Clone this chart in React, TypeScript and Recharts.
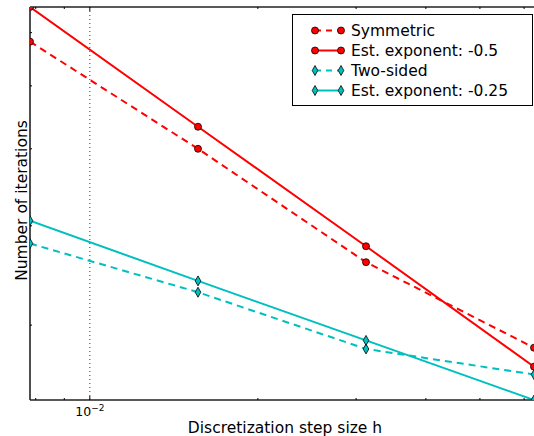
import { LineChart, Line, XAxis, YAxis, ReferenceLine, Legend, Label } from 'recharts';

// step sizes h (1/128 .. 1/16) and iteration counts
const stepSizes = [0.0078125, 0.015625, 0.03125, 0.0625];
const symmetricIters = [682, 500, 360, 281];
const symmetricFit = [754, 533, 377, 266];
const twoSidedIters = [380, 330, 280, 260];
const twoSidedFit = [406, 341, 287, 241.5];

const xTicks = [0.008, 0.009, 0.01, 0.02, 0.03, 0.04, 0.05, 0.06];
const yTicks = [300, 400, 500, 600, 700];

const RED = '#ff0000';
const CYAN = '#00bfbf';
const FONT = '"DejaVu Sans", sans-serif';
const DASH = '7 5';
const TEXT_SIZE = 15.5;

const data = stepSizes.map((h, i) => ({
  h,
  sym: symmetricIters[i],
  symFit: symmetricFit[i],
  two: twoSidedIters[i],
  twoFit: twoSidedFit[i],
}));

const legendItems = [
  { label: 'Symmetric', color: RED, dashed: true, marker: 'circle' },
  { label: 'Est. exponent: -0.5', color: RED, dashed: false, marker: 'circle' },
  { label: 'Two-sided', color: CYAN, dashed: true, marker: 'diamond' },
  { label: 'Est. exponent: -0.25', color: CYAN, dashed: false, marker: 'diamond' },
];

function Marker({ kind, cx, cy, color }: { kind: string; cx: number; cy: number; color: string }) {
  if (kind === 'circle') {
    return <circle cx={cx} cy={cy} r={3.5} fill={color} stroke="#000" strokeWidth={0.8} />;
  }
  return (
    <polygon
      points={`${cx},${cy - 5} ${cx + 2.8},${cy} ${cx},${cy + 5} ${cx - 2.8},${cy}`}
      fill={color}
      stroke="#000"
      strokeWidth={0.8}
    />
  );
}

const dotFor = (kind: string, color: string) => (props: any) => {
  const { cx, cy, index } = props;
  if (cx == null || cy == null) return <g key={`e-${index}`} />;
  return (
    <g key={`${kind}-${color}-${index}`}>
      <Marker kind={kind} cx={cx} cy={cy} color={color} />
    </g>
  );
};

const BottomTick = ({ x, y, payload }: any) => {
  const major = payload.value === 0.01;
  return (
    <g>
      <line x1={x} x2={x} y1={y} y2={y - (major ? 4 : 2)} stroke="#000" />
      {major && (
        <text x={x} y={y + 15.5} textAnchor="middle" fontFamily={FONT} fontSize={12.5} fill="#000">
          10
          <tspan dy={-5} fontSize={9}>
            −2
          </tspan>
        </text>
      )}
    </g>
  );
};

const TopTick = ({ x, y, payload }: any) => {
  const major = payload.value === 0.01;
  return <line x1={x} x2={x} y1={y} y2={y + (major ? 4 : 2)} stroke="#000" />;
};

const LeftTick = ({ x, y }: any) => <line x1={x} x2={x + 2} y1={y} y2={y} stroke="#000" />;

const renderLegend = () => (
  <svg width={241} height={92} style={{ display: 'block' }}>
    <rect x={0.5} y={0.5} width={240} height={91} fill="#fff" stroke="#000" strokeWidth={1} />
    {legendItems.map((item, i) => {
      const cy = 16.5 + i * 20;
      return (
        <g key={item.label}>
          <line
            x1={23}
            x2={49}
            y1={cy}
            y2={cy}
            stroke={item.color}
            strokeWidth={2}
            strokeDasharray={item.dashed ? '6 5' : undefined}
          />
          <Marker kind={item.marker} cx={23} cy={cy} color={item.color} />
          <Marker kind={item.marker} cx={49} cy={cy} color={item.color} />
          <text x={59} y={cy + 5.5} fontFamily={FONT} fontSize={TEXT_SIZE} fill="#000">
            {item.label}
          </text>
        </g>
      );
    })}
  </svg>
);

export default function App() {
  return (
    <div style={{ position: 'absolute', left: 0, top: 0, width: 534, height: 436, overflow: 'hidden', background: '#fff' }}>
      <LineChart width={534} height={436} data={data} margin={{ top: 6, right: 0, bottom: 35, left: 29 }}>
        <XAxis
          dataKey="h"
          type="number"
          scale="log"
          domain={[0.0078125, 0.0625]}
          allowDataOverflow
          ticks={xTicks}
          interval={0}
          height={1}
          tickSize={0}
          tickMargin={0}
          tickLine={false}
          tick={<BottomTick />}
          axisLine={{ stroke: '#222', strokeWidth: 1.6 }}
        >
          <Label
            content={({ viewBox }: any) => (
              <text
                x={viewBox.x + viewBox.width / 2 + 3}
                y={432.5}
                textAnchor="middle"
                fontFamily={FONT}
                fontSize={TEXT_SIZE}
                fill="#000"
              >
                Discretization step size h
              </text>
            )}
          />
        </XAxis>
        <XAxis
          xAxisId="top"
          orientation="top"
          dataKey="h"
          type="number"
          scale="log"
          domain={[0.0078125, 0.0625]}
          allowDataOverflow
          ticks={xTicks}
          interval={0}
          height={1}
          tickSize={0}
          tickMargin={0}
          tickLine={false}
          tick={<TopTick />}
          axisLine={{ stroke: '#222', strokeWidth: 1.6 }}
        />
        <YAxis
          type="number"
          scale="log"
          domain={[241.5, 754]}
          allowDataOverflow
          ticks={yTicks}
          interval={0}
          width={1}
          tickSize={0}
          tickMargin={0}
          tickLine={false}
          tick={<LeftTick />}
          axisLine={{ stroke: '#222', strokeWidth: 1.6 }}
        >
          <Label
            content={({ viewBox }: any) => {
              const cx = 26.5;
              const cy = viewBox.y + viewBox.height / 2 - 3;
              return (
                <text
                  x={cx}
                  y={cy}
                  transform={`rotate(-90 ${cx} ${cy})`}
                  textAnchor="middle"
                  fontFamily={FONT}
                  fontSize={TEXT_SIZE}
                  fill="#000"
                >
                  Number of iterations
                </text>
              );
            }}
          />
        </YAxis>
        <ReferenceLine x={0.01} stroke="#000" strokeWidth={0.8} strokeDasharray="1 3" />
        <Line
          dataKey="sym"
          stroke={RED}
          strokeWidth={2}
          strokeDasharray={DASH}
          dot={dotFor('circle', RED)}
          isAnimationActive={false}
        />
        <Line dataKey="symFit" stroke={RED} strokeWidth={2} dot={dotFor('circle', RED)} isAnimationActive={false} />
        <Line
          dataKey="two"
          stroke={CYAN}
          strokeWidth={2}
          strokeDasharray={DASH}
          dot={dotFor('diamond', CYAN)}
          isAnimationActive={false}
        />
        <Line dataKey="twoFit" stroke={CYAN} strokeWidth={2} dot={dotFor('diamond', CYAN)} isAnimationActive={false} />
        <Legend
          layout="vertical"
          align="center"
          verticalAlign="middle"
          content={renderLegend}
          wrapperStyle={{ top: 14, left: 292, width: 241, height: 92 }}
        />
      </LineChart>
    </div>
  );
}
